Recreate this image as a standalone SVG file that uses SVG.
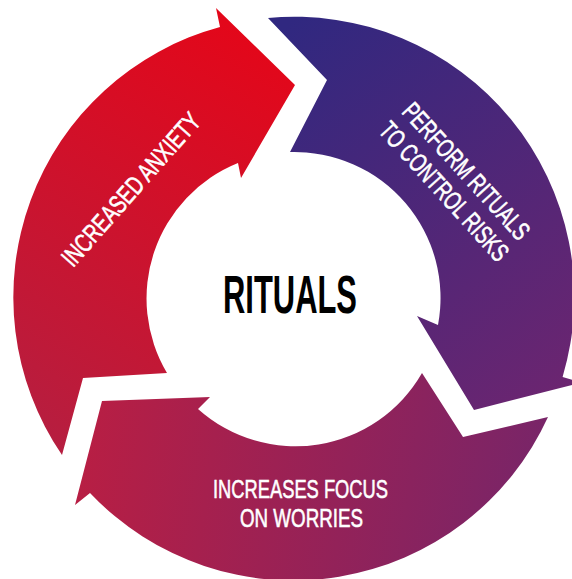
<svg xmlns="http://www.w3.org/2000/svg" width="572" height="579" viewBox="0 0 572 579">
  <defs>
    <linearGradient id="gRed" gradientUnits="userSpaceOnUse" x1="290" y1="60" x2="60" y2="450">
      <stop offset="0" stop-color="#e3071a"/>
      <stop offset="1" stop-color="#b61e40"/>
    </linearGradient>
    <linearGradient id="gPurple" gradientUnits="userSpaceOnUse" x1="280" y1="30" x2="560" y2="400">
      <stop offset="0" stop-color="#302880"/>
      <stop offset="1" stop-color="#6c2570"/>
    </linearGradient>
    <linearGradient id="gBottom" gradientUnits="userSpaceOnUse" x1="80" y1="410" x2="550" y2="480">
      <stop offset="0" stop-color="#b91e43"/>
      <stop offset="1" stop-color="#772569"/>
    </linearGradient>
  </defs>
  <style>
    .lbl { font-family: "Liberation Sans", Arial, sans-serif; font-size: 26px; fill: #ffffff; stroke: #ffffff; stroke-width: 0.6px; text-anchor: middle; }
    .center { font-family: "Liberation Sans", Arial, sans-serif; font-size: 53px; font-weight: bold; fill: #000000; text-anchor: middle; }
  </style>
  <rect width="572" height="579" fill="#ffffff"/>

  <g id="node-increased-anxiety">
    <path d="M 62,455 A 280 280 0 0 1 220,27 L 216,8 L 295,85 L 241,178 L 238,163 A 146 146 0 0 0 167,373 L 83,378 Z" fill="url(#gRed)"/>
    <g transform="translate(130.5,189) rotate(-48.5)">
      <text class="lbl" x="0" y="9.5" textLength="195" lengthAdjust="spacingAndGlyphs">INCREASED ANXIETY</text>
    </g>
  </g>

  <g id="node-perform-rituals">
    <path d="M 268,18 A 280 280 0 0 1 562.6,376.9 L 581.8,382.5 L 474,410 L 417,316 L 438,325 A 146 146 0 0 0 290,152 L 327,80 Z" fill="url(#gPurple)"/>
    <g transform="translate(456,180.5) rotate(47.7)">
      <text class="lbl" x="0" y="-5" textLength="175" lengthAdjust="spacingAndGlyphs">PERFORM RITUALS</text>
      <text class="lbl" x="0" y="25" textLength="178" lengthAdjust="spacingAndGlyphs">TO CONTROL RISKS</text>
    </g>
  </g>

  <g id="node-increases-focus">
    <path d="M 548,417 A 280 280 0 0 1 90,493 L 75,505 L 102,401 L 210,397 L 198,409 A 146 146 0 0 0 422,373 L 463,437 Z" fill="url(#gBottom)"/>
    <text class="lbl" x="300.5" y="498" textLength="175" lengthAdjust="spacingAndGlyphs">INCREASES FOCUS</text>
    <text class="lbl" x="301.5" y="527" textLength="123" lengthAdjust="spacingAndGlyphs">ON WORRIES</text>
  </g>

  <g id="node-rituals">
    <text class="center" x="290" y="313" textLength="134" lengthAdjust="spacingAndGlyphs">RITUALS</text>
  </g>

  <g id="connectors"/>
</svg>
